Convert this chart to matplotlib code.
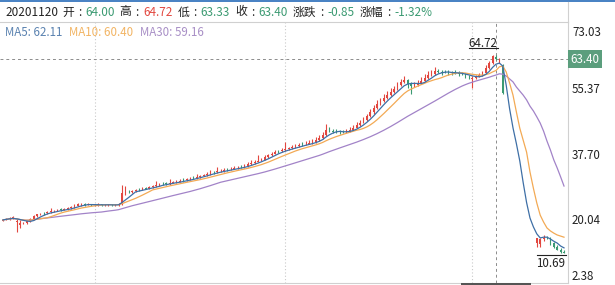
import matplotlib
matplotlib.use("Agg")
import matplotlib.pyplot as plt
import matplotlib.transforms as mtransforms
from matplotlib.lines import Line2D
from matplotlib.patches import Rectangle
import numpy as np
import pandas as pd

plt.rcParams["font.family"] = ["Noto Sans CJK SC", "DejaVu Sans"]

# ---- data ----------------------------------------------------------------
DATE = "20201120"
QUOTE_LABELS = ["开", "高", "低", "收", "涨跌", "涨幅"]
QUOTE_VALUES = ["64.00", "64.72", "63.33", "63.40", "-0.85", "-1.32%"]
QUOTE_UP = [False, True, False, False, False, False]

YTICKS = [73.03, 55.37, 37.70, 20.04, 2.38]
CROSS_IDX = 145
CROSS_PRICE = 63.40
GRID_IDX = [27, 83, 138]

# daily candles; None = no candle drawn
OPEN = [
    19.6, 19.8, 20.1, 20.4, 19.2, 18.3, 18.9, 19.0, 19.4, 20.0,
    20.8, 21.3, 21.7, 21.6, 21.9, 22.2, 22.3, 22.7, 22.6, 22.7,
    22.9, 23.3, 23.6, 24.0, 24.0, 23.9, 24.1, 23.8, 23.9, 24.0,
    23.8, 23.9, 23.9, 23.8, 23.9, 24.0, 26.9, 27.4, 27.3, 27.6,
    28.2, 28.1, 28.4, 28.3, 28.7, 28.9, 29.2, 29.8, 29.7, 29.6,
    29.9, 30.1, 30.2, 30.7, 30.6, 30.8, 31.3, 31.2, 31.5, 31.8,
    32.0, 32.3, 32.9, 32.8, 33.0, 33.1, 33.6, 33.5, 33.7, 33.9,
    34.3, 34.2, 34.5, 34.9, 35.3, 35.6, 35.9, 36.2, 36.9, 37.3,
    37.8, 38.6, 38.5, 38.8, 39.0, 39.3, 39.6, 39.8, 40.4, 40.3,
    40.5, 40.7, 41.0, 41.5, 42.0, 42.9, 44.2, 44.0, 43.8, 43.7,
    43.8, 43.7, 43.9, 44.3, 44.9, 45.5, 46.2, 47.0, 47.9, 49.0,
    50.1, 51.2, 52.2, 53.0, 53.8, 54.6, 55.3, 56.45, 57.15, 57.75,
    56.85, 56.15, 56.55, 57.05, 57.65, 58.35, 59.05, 59.45, 60.35, 60.05,
    60.1, 59.95, 59.75, 59.9, 59.75, 59.55, 59.45, 58.7, 58.2, 58.4,
    58.7, 59.05, 59.6, 61.0, 62.3, 64.00, 62.8, 61.9,
    None, None, None, None, None, None, None, None, None,
    13.6, 13.2, 14.5, 15.0, 14.8, 13.4, 12.5, 11.7, 11.2,
]
HIGH = [
    20.0, 20.3, 20.6, 20.8, 20.0, 19.8, 19.3, 19.6, 20.2, 21.0,
    21.5, 21.7, 21.9, 22.1, 23.0, 22.6, 22.7, 22.9, 23.0, 23.2,
    23.6, 24.2, 24.4, 24.5, 24.3, 24.5, 24.2, 24.2, 24.3, 24.2,
    24.1, 24.2, 24.1, 24.1, 24.3, 29.3, 28.9, 27.8, 27.9, 28.1,
    28.6, 28.8, 28.7, 29.0, 29.3, 30.3, 29.9, 30.0, 30.0, 30.9,
    30.5, 30.6, 30.8, 31.3, 31.1, 31.4, 31.7, 32.4, 32.1, 32.4,
    32.8, 33.3, 33.2, 34.2, 33.5, 33.8, 34.0, 34.1, 34.4, 34.5,
    34.7, 35.0, 35.4, 36.0, 36.0, 37.3, 36.7, 37.4, 37.8, 38.3,
    38.7, 38.9, 39.4, 41.0, 39.7, 40.1, 40.4, 40.6, 40.9, 41.2,
    41.5, 41.8, 42.3, 42.8, 43.6, 45.8, 45.0, 44.6, 44.4, 44.2,
    44.3, 44.5, 45.0, 45.6, 46.3, 47.0, 47.8, 48.7, 50.0, 51.0,
    52.3, 53.0, 54.1, 54.8, 55.7, 56.3, 57.2, 58.0, 58.8, 58.0,
    57.2, 57.2, 57.8, 58.6, 59.4, 60.2, 60.6, 61.3, 60.8, 60.5,
    60.6, 60.4, 60.3, 60.5, 60.2, 60.1, 59.8, 59.2, 59.0, 59.2,
    59.6, 60.2, 61.8, 63.0, 64.6, 64.72, 63.9, 62.2,
    None, None, None, None, None, None, None, None, None,
    15.0, 14.9, 15.6, 15.4, 15.2, 13.8, 12.9, 12.1, 11.6,
]
LOW = [
    19.4, 19.7, 19.9, 20.1, 16.6, 17.6, 18.6, 18.8, 19.2, 19.9,
    20.6, 21.1, 21.2, 21.4, 21.8, 22.0, 22.1, 22.2, 22.4, 22.5,
    22.8, 23.1, 23.5, 23.7, 23.7, 23.8, 23.6, 23.6, 23.7, 23.6,
    23.6, 23.7, 23.6, 23.6, 23.7, 23.9, 26.6, 27.0, 27.1, 27.4,
    27.6, 27.9, 28.1, 28.1, 28.5, 28.7, 29.0, 29.3, 29.3, 29.4,
    29.7, 29.9, 30.0, 30.2, 30.4, 30.6, 30.8, 31.0, 31.3, 31.6,
    31.8, 32.1, 32.4, 32.6, 32.8, 32.9, 33.1, 33.3, 33.5, 33.7,
    33.8, 34.0, 34.3, 34.7, 35.1, 35.4, 35.7, 36.0, 36.7, 37.1,
    37.6, 38.0, 38.3, 38.6, 38.8, 39.1, 39.4, 39.6, 39.9, 40.1,
    40.3, 40.5, 40.8, 41.3, 41.8, 42.7, 43.6, 43.5, 43.4, 43.2,
    43.4, 43.5, 43.7, 44.1, 44.7, 45.3, 46.0, 46.8, 47.7, 48.6,
    49.8, 50.9, 51.9, 52.6, 53.4, 54.2, 55.0, 56.2, 56.9, 55.6,
    54.0, 55.8, 56.3, 56.8, 57.4, 58.1, 58.8, 59.2, 59.7, 59.2,
    59.6, 59.3, 59.1, 59.4, 59.0, 59.1, 58.4, 58.2, 55.7, 58.2,
    58.5, 58.8, 59.4, 60.8, 62.1, 63.33, 62.5, 54.0,
    None, None, None, None, None, None, None, None, None,
    12.4, 12.4, 14.2, 14.5, 13.0, 12.2, 11.5, 10.9, 10.69,
]
CLOSE = [
    19.8, 20.1, 20.4, 20.5, 19.6, 18.9, 19.0, 19.4, 20.0, 20.8,
    21.3, 21.4, 21.6, 21.9, 22.2, 22.3, 22.4, 22.6, 22.7, 22.9,
    23.3, 23.7, 24.0, 24.0, 23.9, 24.1, 23.8, 23.9, 24.0, 23.8,
    23.9, 23.9, 23.8, 23.9, 24.0, 27.0, 27.4, 27.3, 27.6, 27.8,
    28.1, 28.4, 28.3, 28.7, 28.9, 29.2, 29.5, 29.7, 29.6, 29.9,
    30.1, 30.2, 30.4, 30.6, 30.8, 31.0, 31.2, 31.5, 31.8, 32.0,
    32.3, 32.6, 32.8, 33.0, 33.1, 33.3, 33.5, 33.7, 33.9, 34.0,
    34.2, 34.5, 34.9, 35.3, 35.6, 35.9, 36.2, 36.9, 37.3, 37.8,
    38.2, 38.5, 38.8, 39.0, 39.3, 39.6, 39.8, 40.1, 40.3, 40.5,
    40.7, 41.0, 41.5, 42.0, 42.9, 44.2, 44.0, 43.8, 43.7, 43.6,
    43.7, 43.9, 44.3, 44.9, 45.5, 46.2, 47.0, 47.9, 49.0, 50.1,
    51.2, 52.2, 53.0, 53.8, 54.6, 55.3, 56.45, 57.15, 57.75, 56.85,
    56.15, 56.55, 57.05, 57.65, 58.35, 59.05, 59.45, 60.35, 60.05, 59.85,
    59.95, 59.75, 59.65, 59.75, 59.55, 59.45, 58.7, 58.6, 58.4, 58.7,
    59.05, 59.6, 61.0, 62.3, 64.25, 63.40, 63.5, 54.3,
    None, None, None, None, None, None, None, None, None,
    14.8, 14.5, 15.0, 14.8, 13.4, 12.5, 11.7, 11.2, 10.9,
]

# moving averages after the crosshair day, as drawn by the software
TAIL_START = 146
MA5_TAIL = [62.4, 61.6, 56.4, 50.0, 44.8, 40.5, 35.8, 29.9, 24.5, 20.3,
            17.9, 16.0, 14.9, 15.1, 15.1, 14.6, 14.0, 13.5, 12.7, 12.2]
MA10_TAIL = [61.4, 61.6, 60.0, 57.0, 53.7, 49.1, 44.7, 41.5, 38.2, 32.8,
             28.4, 24.4, 21.1, 19.2, 17.6, 16.8, 16.2, 15.7, 15.4, 15.1]
MA30_TAIL = [59.5, 59.4, 58.9, 58.1, 57.3, 55.9, 54.8, 53.7, 52.4, 50.7,
             49.4, 47.8, 46.1, 43.9, 41.2, 38.8, 36.1, 33.9, 31.5, 29.0]

MA_NAMES = ["MA5", "MA10", "MA30"]
MA_WINDOWS = [5, 10, 30]
MA_TAILS = [MA5_TAIL, MA10_TAIL, MA30_TAIL]

# ---- style ---------------------------------------------------------------
W, H, DPI = 615, 285, 100
RED = "#e2473f"
GREEN = "#3b9a72"
TXT = "#222222"
MA_COLORS = ["#3e6fa6", "#f3aa55", "#a283c8"]
MA_TEXT_COLORS = ["#5a82b0", "#f2b463", "#a88fc6"]
FS = 8.3
HEAD_FS = 8.5

AX_TOP, AX_BOTTOM, AX_RIGHT = 22, 283, 568
Y_TOP_PX, Y_BOT_PX = 24, 284          # pixel rows of 73.03 and 2.38
X0_PX, STEP_PX = 3, 3.4               # first candle column and spacing


def fx(px):
    return px / W


def fy(px):
    return 1 - px / H


fig = plt.figure(figsize=(W / DPI, H / DPI), dpi=DPI)
fig.patch.set_facecolor("white")
ax = fig.add_axes([0, fy(AX_BOTTOM), fx(AX_RIGHT), (AX_BOTTOM - AX_TOP) / H])

ppu = (Y_BOT_PX - Y_TOP_PX) / (YTICKS[0] - YTICKS[-1])
ax.set_ylim(YTICKS[-1] - (AX_BOTTOM - Y_BOT_PX) / ppu, YTICKS[0] + (Y_TOP_PX - AX_TOP) / ppu)
ax.set_xlim(-X0_PX / STEP_PX, (AX_RIGHT - X0_PX) / STEP_PX)
ax.set_xticks([])
ax.set_yticks([])
ax.spines["left"].set_visible(False)
for side in ("top", "right", "bottom"):
    ax.spines[side].set_color("#d0d0d0")
    ax.spines[side].set_linewidth(0.8)

# grid and crosshair
for gi in GRID_IDX:
    ax.axvline(gi, color="#c9c9c9", lw=0.8, ls=(0, (1, 2)), zorder=0)
ax.axvline(CROSS_IDX, color="#8c8c8c", lw=0.7, ls=(0, (3, 3)), zorder=0)
ax.axhline(CROSS_PRICE, color="#8c8c8c", lw=0.7, ls=(0, (3, 3)), zorder=0)

# candles
o, h, l, c = (np.array(a, dtype=float) for a in (OPEN, HIGH, LOW, CLOSE))
idx = np.arange(len(c))
ok = ~np.isnan(c)
cols = np.where(c >= o, RED, GREEN)
ax.vlines(idx[ok], l[ok], h[ok], colors=cols[ok], lw=0.8, zorder=2)
ax.bar(idx[ok], np.abs(c - o)[ok], bottom=np.minimum(o, c)[ok], width=0.5,
       color=cols[ok], lw=0, zorder=2)

# moving averages
closes = pd.Series(CLOSE[:TAIL_START], dtype=float)
ma_now = []
for win, tail, col in zip(MA_WINDOWS[::-1], MA_TAILS[::-1], MA_COLORS[::-1]):
    ma = closes.rolling(win, min_periods=1).mean().to_numpy()
    line = np.concatenate([ma, tail])
    ax.plot(np.arange(len(line)), line, color=col, lw=0.9, zorder=3)
for win in MA_WINDOWS:
    ma_now.append(closes.rolling(win, min_periods=1).mean().iloc[CROSS_IDX])

renderer = fig.canvas.get_renderer()
to_fig = fig.transFigure.inverted()


# highest / lowest markers
def extreme(i, price, above):
    dy = 8 if above else -13.5
    tr = mtransforms.offset_copy(ax.transData, fig=fig, x=1.5, y=dy, units="dots")
    t = ax.text(i, price, f"{price:.2f}", transform=tr, ha="right", va="baseline",
                fontsize=FS, color=TXT, zorder=5)
    bb = t.get_window_extent(renderer)
    _, yline = ax.transData.transform((i, price))
    yline += 6.5 if above else -1.5
    (x0, y0), (x1, _) = to_fig.transform([(bb.x0, yline), (bb.x1, yline)])
    fig.add_artist(Line2D([x0, x1], [y0, y0], color=TXT, lw=0.8))


hi_i = int(np.nanargmax(h))
lo_i = int(np.nanargmin(l))
extreme(hi_i, h[hi_i], True)
extreme(lo_i, l[lo_i], False)

# right-hand price labels
ytr = mtransforms.blended_transform_factory(fig.transFigure, ax.transData)
for k, v in enumerate(YTICKS):
    dy = -9 if k == 0 else (8 if k == len(YTICKS) - 1 else -1)
    tr = mtransforms.offset_copy(ytr, fig=fig, y=dy, units="dots")
    ax.text(fx(572), v, f"{v:.2f}", transform=tr, ha="left", va="center",
            fontsize=FS, color=TXT, clip_on=False)

box_h = 18 / ppu
ax.add_patch(Rectangle((fx(568), CROSS_PRICE - box_h / 2), fx(34), box_h,
                       transform=ytr, facecolor="#5b9e7d", edgecolor="none",
                       clip_on=False, zorder=6))
ax.text(fx(585), CROSS_PRICE, f"{CROSS_PRICE:.2f}", transform=ytr, ha="center",
        va="center", fontsize=FS, color="white", clip_on=False, zorder=7)

# date box on the time axis (clipped at the bottom)
btr = mtransforms.blended_transform_factory(ax.transData, fig.transFigure)
ax.add_patch(Rectangle((CROSS_IDX - 35 / STEP_PX, 0), 70 / STEP_PX, fy(AX_BOTTOM),
                       transform=btr, facecolor="#555555", edgecolor="none",
                       clip_on=False, zorder=6))

# header strip
fig.add_artist(Rectangle((0, fy(2)), 1, 2 / H, transform=fig.transFigure,
                         facecolor="#4a83c4", edgecolor="none"))
fig.add_artist(Line2D([fx(AX_RIGHT), fx(AX_RIGHT)], [fy(2), fy(AX_TOP)],
                      color="#d0d0d0", lw=0.8))


def put(x, s, col, y=12, size=HEAD_FS):
    t = fig.text(fx(x), fy(y), s, color=col, fontsize=size, ha="left", va="center")
    return t.get_window_extent(renderer).x1


COLON_W = 11.5
x = put(5, DATE, TXT) + 4
for lab, val, up in zip(QUOTE_LABELS, QUOTE_VALUES, QUOTE_UP):
    x = put(x, lab, TXT)
    fig.text(fx(x + COLON_W / 2), fy(12), ":", color=TXT, fontsize=HEAD_FS,
             ha="center", va="center")
    x = put(x + COLON_W, val, RED if up else GREEN) + 5

# moving-average legend
x = 5
for name, val, col in zip(MA_NAMES, ma_now, MA_TEXT_COLORS):
    x = put(x, f"{name}: {val:.2f}", col, y=32, size=FS) + 7

fig.savefig("out.png", dpi=DPI)
